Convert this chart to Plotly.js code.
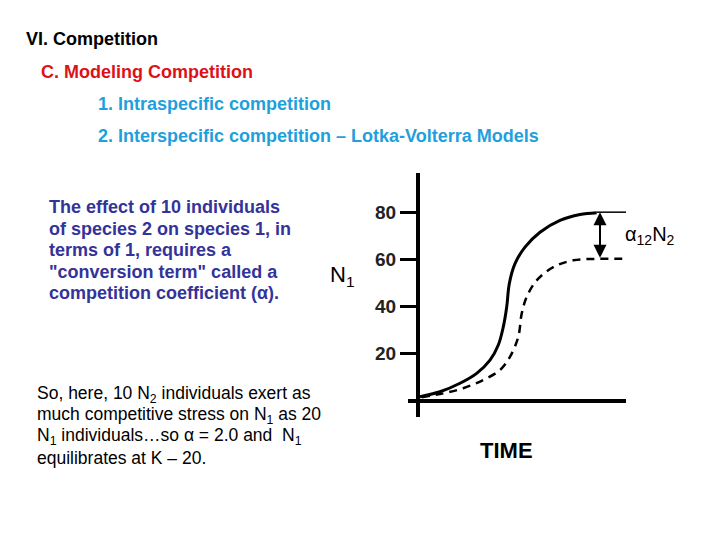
<!DOCTYPE html>
<html>
<head>
<meta charset="utf-8">
<script src="https://cdn.plot.ly/plotly-3.0.1.min.js"></script>
<style>
  html, body { margin: 0; padding: 0; background: #fff; }
  #slide { width: 720px; height: 540px; }
</style>
</head>
<body>
<div id="slide"></div>
<script>
// curve (time units, N1)
var soloTime = [2, 22, 42, 58.7, 72, 80.3, 85.3, 88.7, 91.3, 97, 107, 122, 142, 162, 178.7];
var soloN1 = [1.8, 3.9, 7.5, 11.7, 17.3, 23.7, 31.4, 39.8, 49.7, 58.2, 65.2, 71.5, 76.5, 79, 79.8];

var compTime = [3.7, 25.3, 45.3, 65.3, 82, 92, 100.3, 103.7, 108.7, 118.7, 135.3, 155.3, 178.7, 208];
var compN1 = [1.6, 3.2, 5.4, 8.9, 13.1, 18.7, 27.2, 37, 44.1, 51.1, 56.7, 59.6, 60.2, 60.2];

var K1 = 80;
var Keq = 60;
var kLineTime = [178.7, 208];
var yTicks = [20, 40, 60, 80];

var headings = ['VI. Competition', 'C. Modeling Competition',
  '1. Intraspecific competition', '2. Interspecific competition – Lotka-Volterra Models'];
var para1 = ['The effect of 10 individuals', 'of species 2 on species 1, in',
  'terms of 1, requires a', '"conversion term" called a', 'competition coefficient (α).'];
var para2 = ['So, here, 10 N<sub>2</sub> individuals exert as',
  'much competitive stress on N<sub>1</sub> as 20',
  'N<sub>1</sub> individuals…so α = 2.0 and  N<sub>1</sub>',
  'equilibrates at K – 20.'];

// plot box in pixels
var L = 408, T = 173, R = 94, B = 123;
var W = 720 - L - R, H = 540 - T - B;
function px(x) { return (x - L) / W; }
function py(y) { return (540 - B - y) / H; }

var font = 'Liberation Sans, Arial, sans-serif';

var data = [
  { x: soloTime, y: soloN1, mode: 'lines', type: 'scatter',
    line: { color: '#000', width: 3, shape: 'spline' }, hoverinfo: 'skip' },
  { x: kLineTime, y: [K1, K1], mode: 'lines', type: 'scatter',
    line: { color: '#000', width: 1.5 }, hoverinfo: 'skip' },
  { x: compTime, y: compN1, mode: 'lines', type: 'scatter',
    line: { color: '#000', width: 2.5, dash: '8px,6px', shape: 'spline' }, hoverinfo: 'skip' }
];

var ann = [];
var headX = [24, 39, 96, 96];
var headY = [39, 72, 104, 136];
var headColor = ['#000', '#dd1118', '#1f9fdc', '#1f9fdc'];
headings.forEach(function (t, i) {
  ann.push({ xref: 'paper', yref: 'paper', x: px(headX[i]), y: py(headY[i]),
    xanchor: 'left', yanchor: 'middle', showarrow: false, text: t,
    font: { family: font, size: 18, color: headColor[i], weight: 'bold' } });
});
para1.forEach(function (t, i) {
  ann.push({ xref: 'paper', yref: 'paper', x: px(47), y: py(207 + i * 21.6),
    xanchor: 'left', yanchor: 'middle', showarrow: false, text: t,
    font: { family: font, size: 18, color: '#333399', weight: 'bold' } });
});
para2.forEach(function (t, i) {
  ann.push({ xref: 'paper', yref: 'paper', x: px(35), y: py(394 + i * 21.3),
    xanchor: 'left', yanchor: 'middle', showarrow: false, text: t,
    font: { family: font, size: 17.5, color: '#000' } });
});

// N1 label, TIME label, alpha label
ann.push({ xref: 'paper', yref: 'paper', x: px(328), y: py(276), xanchor: 'left', yanchor: 'middle',
  showarrow: false, text: 'N<sub>1</sub>', font: { family: font, size: 22, color: '#000' } });
ann.push({ xref: 'x', yref: 'paper', x: 88, y: py(450), xanchor: 'center', yanchor: 'middle',
  showarrow: false, text: 'TIME', font: { family: font, size: 22, color: '#000', weight: 'bold' } });
ann.push({ xref: 'x', yref: 'y', x: 205, y: 70, xanchor: 'left', yanchor: 'middle',
  showarrow: false, text: 'α<sub>12</sub>N<sub>2</sub>', font: { family: font, size: 20, color: '#000' } });

// double arrow between K and K - alpha N2
ann.push({ xref: 'x', yref: 'y', axref: 'x', ayref: 'y', x: 182, y: K1, ax: 182, ay: Keq,
  text: '', showarrow: true, arrowhead: 2, arrowside: 'end+start', arrowsize: 1.3,
  arrowwidth: 2, arrowcolor: '#000', standoff: 0, startstandoff: 0 });

var layout = {
  width: 720, height: 540,
  margin: { l: L, r: R, t: T, b: B },
  paper_bgcolor: '#fff', plot_bgcolor: '#fff',
  showlegend: false,
  xaxis: { range: [-10, 208], showgrid: false, zeroline: false, showticklabels: false,
    ticks: '', showline: false, fixedrange: true },
  yaxis: { range: [-6.8, 96.6], anchor: 'free', position: 10 / W,
    showline: true, linewidth: 4, linecolor: '#000',
    zeroline: true, zerolinewidth: 4, zerolinecolor: '#000',
    showgrid: false, ticks: 'outside', ticklen: 16, tickwidth: 3, tickcolor: '#000',
    tickvals: yTicks, ticktext: yTicks.map(String),
    tickfont: { family: font, size: 19, color: '#222', weight: 'bold' }, fixedrange: true },
  annotations: ann
};

Plotly.newPlot('slide', data, layout, { staticPlot: true });
</script>
</body>
</html>
